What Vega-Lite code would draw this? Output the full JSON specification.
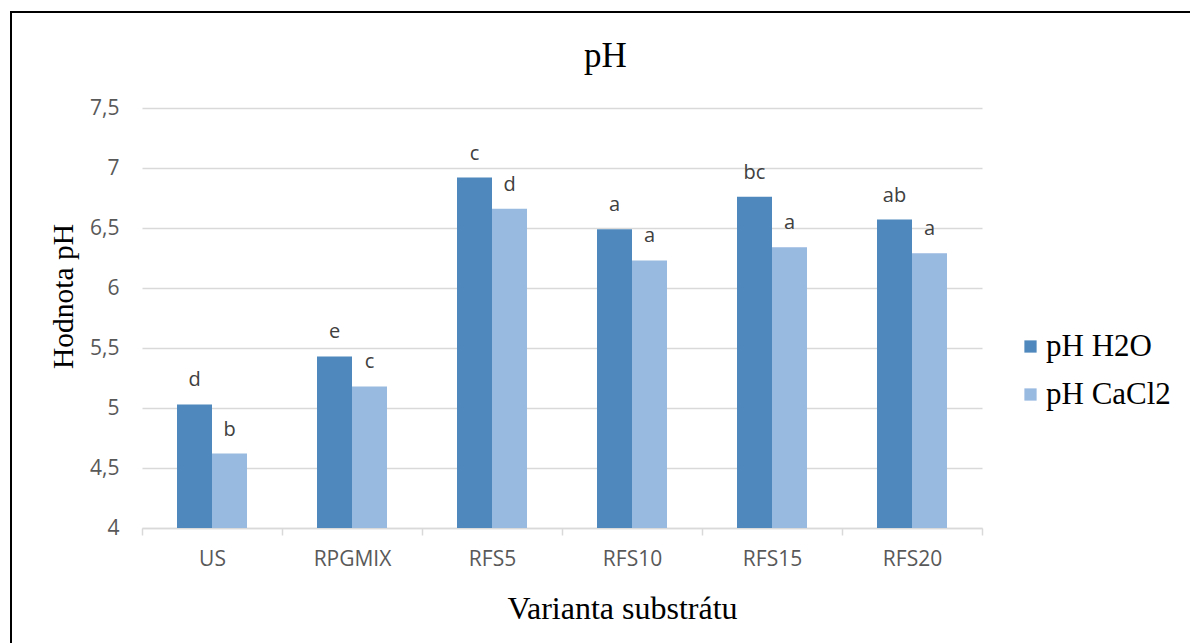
{
  "$schema": "https://vega.github.io/schema/vega-lite/v6.json",
  "autosize": "none",
  "width": 1179,
  "height": 631,
  "padding": {"left": 11, "top": 12, "right": 0, "bottom": 0},
  "background": "white",
  "title": {
    "text": "pH",
    "font": "Liberation Serif",
    "fontSize": 35,
    "fontWeight": "normal",
    "color": "black",
    "anchor": "middle",
    "frame": "group",
    "baseline": "alphabetic",
    "offset": 0,
    "dx": 5,
    "dy": 90
  },
  "config": {
    "view": {"stroke": "black", "strokeWidth": 2, "strokeDash": [1179, 1810, 640]}
  },
  "data": {
    "values": [
      {"variant": "US", "series": "pH H2O", "value": 5.03, "letter": "d"},
      {"variant": "US", "series": "pH CaCl2", "value": 4.62, "letter": "b"},
      {"variant": "RPGMIX", "series": "pH H2O", "value": 5.43, "letter": "e"},
      {"variant": "RPGMIX", "series": "pH CaCl2", "value": 5.18, "letter": "c"},
      {"variant": "RFS5", "series": "pH H2O", "value": 6.92, "letter": "c"},
      {"variant": "RFS5", "series": "pH CaCl2", "value": 6.66, "letter": "d"},
      {"variant": "RFS10", "series": "pH H2O", "value": 6.49, "letter": "a"},
      {"variant": "RFS10", "series": "pH CaCl2", "value": 6.23, "letter": "a"},
      {"variant": "RFS15", "series": "pH H2O", "value": 6.76, "letter": "bc"},
      {"variant": "RFS15", "series": "pH CaCl2", "value": 6.34, "letter": "a"},
      {"variant": "RFS20", "series": "pH H2O", "value": 6.57, "letter": "ab"},
      {"variant": "RFS20", "series": "pH CaCl2", "value": 6.29, "letter": "a"}
    ]
  },
  "encoding": {
    "x": {
      "field": "variant",
      "type": "nominal",
      "sort": ["US", "RPGMIX", "RFS5", "RFS10", "RFS15", "RFS20"],
      "scale": {"range": [131, 971], "paddingInner": 0, "paddingOuter": 0},
      "axis": {
        "title": "Varianta substrátu",
        "titleFont": "Liberation Serif",
        "titleFontSize": 32,
        "titleFontWeight": "normal",
        "titleColor": "black",
        "titleX": 611,
        "titleY": 90,
        "titleBaseline": "alphabetic",
        "titleAlign": "center",
        "labelFont": "Open Sans",
        "labelFontSize": 21,
        "labelColor": "#595959",
        "labelAngle": 0,
        "labelBaseline": "middle",
        "labelPadding": 24,
        "domainColor": "#d9d9d9",
        "domainWidth": 1.5,
        "tickColor": "#d9d9d9",
        "tickWidth": 1.5,
        "tickSize": 7,
        "tickBand": "extent",
        "offset": -115,
        "grid": false
      }
    },
    "xOffset": {
      "field": "series",
      "type": "nominal",
      "sort": ["pH H2O", "pH CaCl2"],
      "scale": {"paddingInner": 0, "paddingOuter": 1.09}
    },
    "y": {
      "field": "value",
      "type": "quantitative",
      "scale": {"domain": [4, 7.5], "range": [516, 96], "zero": false, "nice": false},
      "axis": {
        "values": [4, 4.5, 5, 5.5, 6, 6.5, 7, 7.5],
        "labelExpr": "replace(format(datum.value, '~g'), '.', ',')",
        "labelFont": "Open Sans",
        "labelFontSize": 21,
        "labelColor": "#595959",
        "labelPadding": 23,
        "ticks": false,
        "domain": false,
        "grid": true,
        "gridColor": "#d9d9d9",
        "gridWidth": 1.5,
        "offset": -131,
        "title": "Hodnota pH",
        "titleFont": "Liberation Serif",
        "titleFontSize": 29.5,
        "titleFontWeight": "normal",
        "titleColor": "black",
        "titleAngle": 270,
        "titleX": -70,
        "titleY": 284,
        "titleBaseline": "alphabetic",
        "titleAlign": "center"
      }
    }
  },
  "layer": [
    {
      "mark": {"type": "bar"},
      "encoding": {
        "y2": {"datum": 4},
        "color": {
          "field": "series",
          "type": "nominal",
          "sort": ["pH H2O", "pH CaCl2"],
          "scale": {"domain": ["pH H2O", "pH CaCl2"], "range": ["#4f88bc", "#98b9e0"]},
          "legend": {
            "title": null,
            "orient": "none",
            "legendX": 1004,
            "legendY": 319,
            "padding": 0,
            "symbolType": "square",
            "symbolSize": 150,
            "symbolStrokeWidth": 0,
            "labelFont": "Liberation Serif",
            "labelFontSize": 31,
            "labelColor": "black",
            "labelOffset": 0,
            "rowPadding": 16
          }
        }
      }
    },
    {
      "mark": {
        "type": "text",
        "font": "Open Sans",
        "fontSize": 20,
        "color": "#404040",
        "baseline": "alphabetic",
        "align": "center",
        "dy": -18
      },
      "encoding": {"text": {"field": "letter"}}
    }
  ]
}
